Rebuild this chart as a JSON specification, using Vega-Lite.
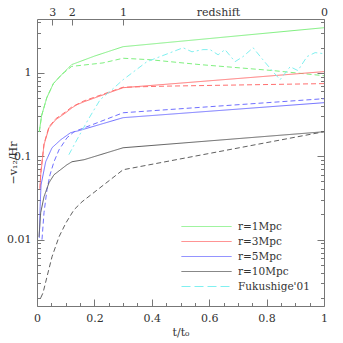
{
  "$schema": "https://vega.github.io/schema/vega-lite/v6.json",
  "width": 287,
  "height": 287,
  "autosize": {"type": "none"},
  "padding": {"left": 37, "top": 19, "right": 19, "bottom": 37},
  "config": {
    "view": {"stroke": "#777", "strokeWidth": 1},
    "font": "DejaVu Serif",
    "axis": {
      "domain": false, "grid": false, "tickColor": "#777", "tickWidth": 1,
      "labelColor": "#333", "titleColor": "#333",
      "labelFont": "DejaVu Serif", "titleFont": "DejaVu Serif",
      "labelFontSize": 11, "titleFontSize": 11, "titleFontWeight": "normal",
      "labelOverlap": false, "labelFlush": false
    }
  },
  "datasets": {
    "curves": [
      {"line": "g1", "series": "r=1Mpc", "style": "solid", "t": 0.008, "v": 0.196},
      {"line": "g1", "series": "r=1Mpc", "style": "solid", "t": 0.016, "v": 0.305},
      {"line": "g1", "series": "r=1Mpc", "style": "solid", "t": 0.034, "v": 0.50},
      {"line": "g1", "series": "r=1Mpc", "style": "solid", "t": 0.057, "v": 0.74},
      {"line": "g1", "series": "r=1Mpc", "style": "solid", "t": 0.086, "v": 0.95},
      {"line": "g1", "series": "r=1Mpc", "style": "solid", "t": 0.121, "v": 1.25},
      {"line": "g1", "series": "r=1Mpc", "style": "solid", "t": 0.2, "v": 1.58},
      {"line": "g1", "series": "r=1Mpc", "style": "solid", "t": 0.3, "v": 2.05},
      {"line": "g1", "series": "r=1Mpc", "style": "solid", "t": 1.0, "v": 3.46},

      {"line": "g2", "series": "r=1Mpc", "style": "dashed", "t": 0.008, "v": 0.196},
      {"line": "g2", "series": "r=1Mpc", "style": "dashed", "t": 0.016, "v": 0.305},
      {"line": "g2", "series": "r=1Mpc", "style": "dashed", "t": 0.034, "v": 0.50},
      {"line": "g2", "series": "r=1Mpc", "style": "dashed", "t": 0.057, "v": 0.74},
      {"line": "g2", "series": "r=1Mpc", "style": "dashed", "t": 0.086, "v": 0.95},
      {"line": "g2", "series": "r=1Mpc", "style": "dashed", "t": 0.121, "v": 1.19},
      {"line": "g2", "series": "r=1Mpc", "style": "dashed", "t": 0.23, "v": 1.31},
      {"line": "g2", "series": "r=1Mpc", "style": "dashed", "t": 0.3, "v": 1.49},
      {"line": "g2", "series": "r=1Mpc", "style": "dashed", "t": 0.394, "v": 1.43},
      {"line": "g2", "series": "r=1Mpc", "style": "dashed", "t": 0.568, "v": 1.25},
      {"line": "g2", "series": "r=1Mpc", "style": "dashed", "t": 0.822, "v": 1.06},
      {"line": "g2", "series": "r=1Mpc", "style": "dashed", "t": 1.0, "v": 0.92},

      {"line": "r1", "series": "r=3Mpc", "style": "solid", "t": 0.0105, "v": 0.040},
      {"line": "r1", "series": "r=3Mpc", "style": "solid", "t": 0.0129, "v": 0.060},
      {"line": "r1", "series": "r=3Mpc", "style": "solid", "t": 0.0244, "v": 0.137},
      {"line": "r1", "series": "r=3Mpc", "style": "solid", "t": 0.0418, "v": 0.219},
      {"line": "r1", "series": "r=3Mpc", "style": "solid", "t": 0.065, "v": 0.273},
      {"line": "r1", "series": "r=3Mpc", "style": "solid", "t": 0.100, "v": 0.331},
      {"line": "r1", "series": "r=3Mpc", "style": "solid", "t": 0.122, "v": 0.38},
      {"line": "r1", "series": "r=3Mpc", "style": "solid", "t": 0.139, "v": 0.413},
      {"line": "r1", "series": "r=3Mpc", "style": "solid", "t": 0.164, "v": 0.449},
      {"line": "r1", "series": "r=3Mpc", "style": "solid", "t": 0.3, "v": 0.661},
      {"line": "r1", "series": "r=3Mpc", "style": "solid", "t": 1.0, "v": 1.03},

      {"line": "r2", "series": "r=3Mpc", "style": "dashed", "t": 0.0105, "v": 0.041},
      {"line": "r2", "series": "r=3Mpc", "style": "dashed", "t": 0.0129, "v": 0.062},
      {"line": "r2", "series": "r=3Mpc", "style": "dashed", "t": 0.0244, "v": 0.14},
      {"line": "r2", "series": "r=3Mpc", "style": "dashed", "t": 0.0418, "v": 0.225},
      {"line": "r2", "series": "r=3Mpc", "style": "dashed", "t": 0.065, "v": 0.28},
      {"line": "r2", "series": "r=3Mpc", "style": "dashed", "t": 0.100, "v": 0.34},
      {"line": "r2", "series": "r=3Mpc", "style": "dashed", "t": 0.122, "v": 0.39},
      {"line": "r2", "series": "r=3Mpc", "style": "dashed", "t": 0.164, "v": 0.46},
      {"line": "r2", "series": "r=3Mpc", "style": "dashed", "t": 0.3, "v": 0.67},
      {"line": "r2", "series": "r=3Mpc", "style": "dashed", "t": 0.45, "v": 0.69},
      {"line": "r2", "series": "r=3Mpc", "style": "dashed", "t": 1.0, "v": 0.74},

      {"line": "b1", "series": "r=5Mpc", "style": "solid", "t": 0.008, "v": 0.0105},
      {"line": "b1", "series": "r=5Mpc", "style": "solid", "t": 0.011, "v": 0.025},
      {"line": "b1", "series": "r=5Mpc", "style": "solid", "t": 0.014, "v": 0.045},
      {"line": "b1", "series": "r=5Mpc", "style": "solid", "t": 0.0303, "v": 0.0857},
      {"line": "b1", "series": "r=5Mpc", "style": "solid", "t": 0.0523, "v": 0.126},
      {"line": "b1", "series": "r=5Mpc", "style": "solid", "t": 0.0826, "v": 0.157},
      {"line": "b1", "series": "r=5Mpc", "style": "solid", "t": 0.117, "v": 0.191},
      {"line": "b1", "series": "r=5Mpc", "style": "solid", "t": 0.146, "v": 0.202},
      {"line": "b1", "series": "r=5Mpc", "style": "solid", "t": 0.3, "v": 0.289},
      {"line": "b1", "series": "r=5Mpc", "style": "solid", "t": 1.0, "v": 0.437},

      {"line": "b2", "series": "r=5Mpc", "style": "dashed", "t": 0.0174, "v": 0.010},
      {"line": "b2", "series": "r=5Mpc", "style": "dashed", "t": 0.0244, "v": 0.021},
      {"line": "b2", "series": "r=5Mpc", "style": "dashed", "t": 0.0348, "v": 0.0396},
      {"line": "b2", "series": "r=5Mpc", "style": "dashed", "t": 0.0453, "v": 0.0598},
      {"line": "b2", "series": "r=5Mpc", "style": "dashed", "t": 0.0592, "v": 0.0857},
      {"line": "b2", "series": "r=5Mpc", "style": "dashed", "t": 0.0767, "v": 0.119},
      {"line": "b2", "series": "r=5Mpc", "style": "dashed", "t": 0.1045, "v": 0.166},
      {"line": "b2", "series": "r=5Mpc", "style": "dashed", "t": 0.129, "v": 0.196},
      {"line": "b2", "series": "r=5Mpc", "style": "dashed", "t": 0.3, "v": 0.331},
      {"line": "b2", "series": "r=5Mpc", "style": "dashed", "t": 1.0, "v": 0.488},

      {"line": "k1", "series": "r=10Mpc", "style": "solid", "t": 0.007, "v": 0.0108},
      {"line": "k1", "series": "r=10Mpc", "style": "solid", "t": 0.0129, "v": 0.021},
      {"line": "k1", "series": "r=10Mpc", "style": "solid", "t": 0.0244, "v": 0.0326},
      {"line": "k1", "series": "r=10Mpc", "style": "solid", "t": 0.0418, "v": 0.048},
      {"line": "k1", "series": "r=10Mpc", "style": "solid", "t": 0.0592, "v": 0.0598},
      {"line": "k1", "series": "r=10Mpc", "style": "solid", "t": 0.1045, "v": 0.0789},
      {"line": "k1", "series": "r=10Mpc", "style": "solid", "t": 0.122, "v": 0.0857},
      {"line": "k1", "series": "r=10Mpc", "style": "solid", "t": 0.164, "v": 0.0906},
      {"line": "k1", "series": "r=10Mpc", "style": "solid", "t": 0.3, "v": 0.126},
      {"line": "k1", "series": "r=10Mpc", "style": "solid", "t": 1.0, "v": 0.196},

      {"line": "k2", "series": "r=10Mpc", "style": "dashed", "t": 0.0129, "v": 0.0020},
      {"line": "k2", "series": "r=10Mpc", "style": "dashed", "t": 0.021, "v": 0.0023},
      {"line": "k2", "series": "r=10Mpc", "style": "dashed", "t": 0.0348, "v": 0.00358},
      {"line": "k2", "series": "r=10Mpc", "style": "dashed", "t": 0.0523, "v": 0.00622},
      {"line": "k2", "series": "r=10Mpc", "style": "dashed", "t": 0.0767, "v": 0.0108},
      {"line": "k2", "series": "r=10Mpc", "style": "dashed", "t": 0.101, "v": 0.0159},
      {"line": "k2", "series": "r=10Mpc", "style": "dashed", "t": 0.129, "v": 0.0228},
      {"line": "k2", "series": "r=10Mpc", "style": "dashed", "t": 0.157, "v": 0.0284},
      {"line": "k2", "series": "r=10Mpc", "style": "dashed", "t": 0.3, "v": 0.0687},
      {"line": "k2", "series": "r=10Mpc", "style": "dashed", "t": 1.0, "v": 0.196},

      {"line": "c", "series": "Fukushige'01", "style": "dashdot", "t": 0.111, "v": 0.104},
      {"line": "c", "series": "Fukushige'01", "style": "dashdot", "t": 0.139, "v": 0.157},
      {"line": "c", "series": "Fukushige'01", "style": "dashdot", "t": 0.178, "v": 0.273},
      {"line": "c", "series": "Fukushige'01", "style": "dashdot", "t": 0.220, "v": 0.475},
      {"line": "c", "series": "Fukushige'01", "style": "dashdot", "t": 0.261, "v": 0.625},
      {"line": "c", "series": "Fukushige'01", "style": "dashdot", "t": 0.300, "v": 0.824},
      {"line": "c", "series": "Fukushige'01", "style": "dashdot", "t": 0.383, "v": 1.355},
      {"line": "c", "series": "Fukushige'01", "style": "dashdot", "t": 0.509, "v": 1.99},
      {"line": "c", "series": "Fukushige'01", "style": "dashdot", "t": 0.540, "v": 1.78},
      {"line": "c", "series": "Fukushige'01", "style": "dashdot", "t": 0.578, "v": 1.89},
      {"line": "c", "series": "Fukushige'01", "style": "dashdot", "t": 0.603, "v": 1.89},
      {"line": "c", "series": "Fukushige'01", "style": "dashdot", "t": 0.631, "v": 1.64},
      {"line": "c", "series": "Fukushige'01", "style": "dashdot", "t": 0.655, "v": 1.89},
      {"line": "c", "series": "Fukushige'01", "style": "dashdot", "t": 0.690, "v": 1.355},
      {"line": "c", "series": "Fukushige'01", "style": "dashdot", "t": 0.718, "v": 1.56},
      {"line": "c", "series": "Fukushige'01", "style": "dashdot", "t": 0.753, "v": 1.99},
      {"line": "c", "series": "Fukushige'01", "style": "dashdot", "t": 0.787, "v": 1.43},
      {"line": "c", "series": "Fukushige'01", "style": "dashdot", "t": 0.822, "v": 1.03},
      {"line": "c", "series": "Fukushige'01", "style": "dashdot", "t": 0.847, "v": 0.824},
      {"line": "c", "series": "Fukushige'01", "style": "dashdot", "t": 0.882, "v": 1.18},
      {"line": "c", "series": "Fukushige'01", "style": "dashdot", "t": 0.909, "v": 1.06},
      {"line": "c", "series": "Fukushige'01", "style": "dashdot", "t": 0.941, "v": 1.56},
      {"line": "c", "series": "Fukushige'01", "style": "dashdot", "t": 0.969, "v": 1.74},
      {"line": "c", "series": "Fukushige'01", "style": "dashdot", "t": 1.0, "v": 1.69}
    ]
  },
  "data": {"name": "curves"},
  "resolve": {"axis": {"x": "independent", "y": "independent"}},
  "layer": [
    {
      "mark": {"type": "line", "strokeWidth": 1, "clip": true},
      "encoding": {
        "x": {"field": "t", "type": "quantitative",
          "scale": {"domain": [0, 1], "nice": false, "zero": false},
          "axis": {"orient": "bottom", "values": [0, 0.2, 0.4, 0.6, 0.8, 1], "format": "~g",
            "tickSize": -7, "labelPadding": 13, "title": "t/t₀", "titlePadding": 3}},
        "y": {"field": "v", "type": "quantitative",
          "scale": {"type": "log", "domain": [0.0016, 4.4], "nice": false},
          "axis": {"orient": "left", "values": [0.01, 0.1, 1], "format": "~g",
            "tickSize": -7, "labelPadding": 13, "title": "−v₁₂/Hr", "titleX": -24, "titleBaseline": "middle"}},
        "color": {"field": "series", "type": "nominal",
          "scale": {"domain": ["r=1Mpc", "r=3Mpc", "r=5Mpc", "r=10Mpc", "Fukushige'01"],
            "range": ["#80f080", "#ff7070", "#7070ff", "#606060", "#80f0f0"]},
          "legend": {"orient": "none", "legendX": 164, "legendY": 202, "title": null,
            "symbolType": "M-5,0H5", "symbolSize": 100, "symbolStrokeWidth": 1,
            "labelFont": "DejaVu Serif", "labelFontSize": 10.5, "labelColor": "#333",
            "labelOffset": 26, "rowPadding": 4,
            "encode": {"symbols": {"update": {"strokeDash": {"signal": "datum.label === \"Fukushige'01\" ? [9,4] : [1,0]"}}}}}},
        "strokeDash": {"field": "style", "type": "nominal",
          "scale": {"domain": ["solid", "dashed", "dashdot"], "range": [[1, 0], [5, 3], [6, 3, 2, 3]]},
          "legend": null},
        "detail": {"field": "line"}
      }
    },
    {
      "mark": {"type": "point", "opacity": 0},
      "encoding": {
        "x": {"field": "t", "type": "quantitative",
          "scale": {"domain": [0, 1], "nice": false, "zero": false},
          "axis": {"orient": "bottom", "values": [0.05, 0.1, 0.15, 0.25, 0.3, 0.35, 0.45, 0.5, 0.55, 0.65, 0.7, 0.75, 0.85, 0.9, 0.95],
            "labels": false, "tickSize": -3.5, "title": null}},
        "y": {"field": "v", "type": "quantitative",
          "scale": {"type": "log", "domain": [0.0016, 4.4], "nice": false},
          "axis": {"orient": "left", "values": [0.002, 0.003, 0.004, 0.005, 0.006, 0.007, 0.008, 0.009, 0.02, 0.03, 0.04, 0.05, 0.06, 0.07, 0.08, 0.09, 0.2, 0.3, 0.4, 0.5, 0.6, 0.7, 0.8, 0.9, 2, 3, 4],
            "labels": false, "tickSize": -3.5, "title": null}}
      }
    },
    {
      "mark": {"type": "point", "opacity": 0},
      "encoding": {
        "x": {"field": "t", "type": "quantitative",
          "scale": {"domain": [0, 1], "nice": false, "zero": false},
          "axis": {"orient": "top", "values": [0.053, 0.121, 0.3, 1],
            "labelExpr": "datum.value < 0.08 ? '3' : datum.value < 0.2 ? '2' : datum.value < 0.5 ? '1' : '0'",
            "tickSize": -6, "labelPadding": 8, "title": "redshift", "titleX": 181, "titleY": -2, "titleBaseline": "bottom", "titleAlign": "center"}},
        "y": {"field": "v", "type": "quantitative",
          "scale": {"type": "log", "domain": [0.0016, 4.4], "nice": false},
          "axis": {"orient": "right", "values": [0.01, 0.1, 1], "labels": false, "tickSize": -7, "title": null}}
      }
    },
    {
      "mark": {"type": "point", "opacity": 0},
      "encoding": {
        "x": {"field": "t", "type": "quantitative",
          "scale": {"domain": [0, 1], "nice": false, "zero": false}, "axis": null},
        "y": {"field": "v", "type": "quantitative",
          "scale": {"type": "log", "domain": [0.0016, 4.4], "nice": false},
          "axis": {"orient": "right", "values": [0.002, 0.003, 0.004, 0.005, 0.006, 0.007, 0.008, 0.009, 0.02, 0.03, 0.04, 0.05, 0.06, 0.07, 0.08, 0.09, 0.2, 0.3, 0.4, 0.5, 0.6, 0.7, 0.8, 0.9, 2, 3, 4],
            "labels": false, "tickSize": -3.5, "title": null}}
      }
    }
  ]
}
